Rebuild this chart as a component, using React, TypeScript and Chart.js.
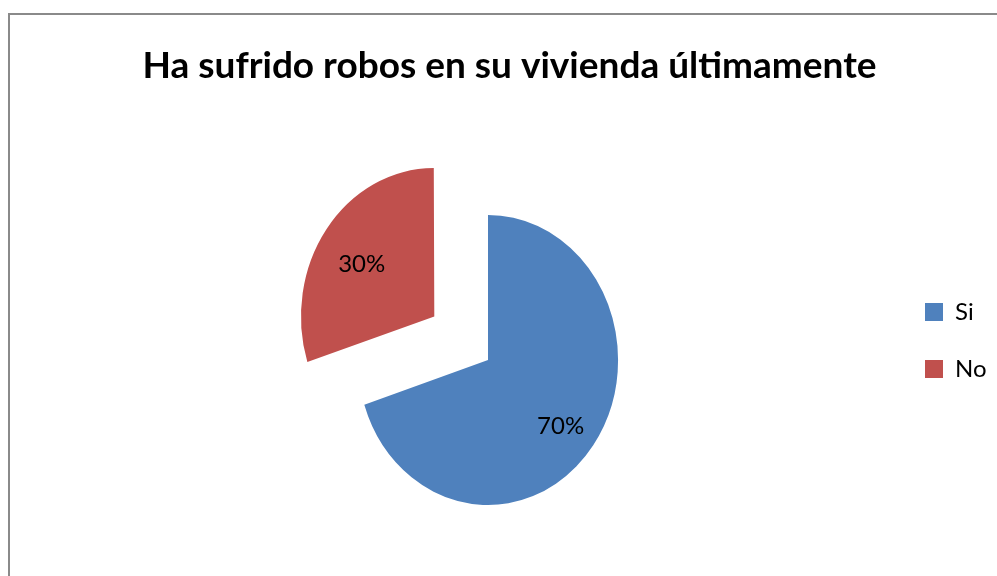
import { useEffect, useRef } from 'react';
import { Chart, registerables } from 'chart.js';

Chart.register(...registerables);

const TITLE = 'Ha sufrido robos en su vivienda últimamente';
const categories = ['Si', 'No'];
const percentages = [70, 30];
const sliceColors = ['#4F81BD', '#C0504D'];
const explodeOffsets = [0, 74];

const X_SCALE = 0.897;
const FONT = 'Lato';
const LEGEND_FONT = 24;
const LEGEND_BOX = 18;
const LEGEND_PAD = 33;
const LABEL_DY = 7;

export default function App() {
  const ref = useRef<HTMLCanvasElement | null>(null);

  useEffect(() => {
    const canvas = ref.current;
    if (!canvas) return;
    const total = percentages.reduce((a, b) => a + b, 0);

    // layout: legend box left edge, title centre and pie centre
    const mctx = document.createElement('canvas').getContext('2d') as CanvasRenderingContext2D;
    mctx.font = `${LEGEND_FONT}px ${FONT}`;
    const textW = Math.max(...categories.map((c) => mctx.measureText(c).width));
    const legendW = LEGEND_PAD + LEGEND_BOX + LEGEND_FONT / 2 + textW + 10;
    const legendLeft = 892;
    const padRight = 997 - legendLeft - legendW;
    const padLeft = 2 * 509.5 - 997 + padRight;
    const axisW = 2 * 488 - padLeft - legendLeft;

    const piePlugin = {
      id: 'pieShape',
      beforeDatasetsDraw(chart: any) {
        const arc = chart.getDatasetMeta(0).data[0];
        const ctx = chart.ctx;
        ctx.save();
        ctx.translate(arc.x, 0);
        ctx.scale(X_SCALE, 1);
        ctx.translate(-arc.x, 0);
      },
      afterDatasetsDraw(chart: any) {
        const ctx = chart.ctx;
        ctx.restore();
        const meta = chart.getDatasetMeta(0);
        ctx.save();
        ctx.font = `24px ${FONT}`;
        ctx.fillStyle = '#000';
        ctx.textAlign = 'center';
        ctx.textBaseline = 'middle';
        meta.data.forEach((el: any, i: number) => {
          const { x, y, startAngle, endAngle, outerRadius } = el.getProps(
            ['x', 'y', 'startAngle', 'endAngle', 'outerRadius'],
            true
          );
          const mid = (startAngle + endAngle) / 2;
          const d = explodeOffsets[i] + 0.69 * outerRadius;
          const lx = x + Math.cos(mid) * d * X_SCALE;
          const ly = y + Math.sin(mid) * d + LABEL_DY;
          ctx.fillText(Math.round((percentages[i] / total) * 100) + '%', lx, ly);
        });
        ctx.restore();
      },
    };

    const chart = new Chart(canvas, {
      type: 'pie',
      data: {
        labels: categories,
        datasets: [
          {
            data: percentages,
            backgroundColor: sliceColors,
            borderWidth: 0,
            offset: explodeOffsets.map((o) => o * 4),
            hoverOffset: 0,
            radius: 145,
          } as any,
        ],
      },
      options: {
        responsive: false,
        animation: false,
        devicePixelRatio: 1,
        layout: { padding: { left: padLeft, right: padRight, top: 0, bottom: 0 } },
        scales: {
          y: {
            type: 'linear',
            position: 'left',
            display: true,
            grid: { display: false },
            border: { display: false },
            ticks: { display: false },
            afterFit(scale: any) {
              scale.width = axisW;
            },
          },
        },
        plugins: {
          title: {
            display: true,
            text: TITLE,
            color: '#000',
            font: { family: FONT, size: 37, weight: 'bold', lineHeight: 1.2 },
            padding: { top: 43.8, bottom: 55.8 },
          },
          legend: {
            display: true,
            position: 'right',
            fullSize: true,
            title: {
              display: true,
              text: '',
              font: { size: 12, lineHeight: 1 },
              padding: { top: 0, bottom: 93 },
            },
            labels: {
              boxWidth: LEGEND_BOX,
              boxHeight: LEGEND_BOX,
              padding: LEGEND_PAD,
              color: '#000',
              font: { family: FONT, size: LEGEND_FONT },
            },
          },
          tooltip: { enabled: false },
        },
      } as any,
      plugins: [piePlugin],
    });

    return () => chart.destroy();
  }, []);

  return (
    <div
      style={{
        position: 'fixed',
        left: 0,
        top: 0,
        width: 997,
        height: 576,
        overflow: 'hidden',
        background: '#fff',
      }}
    >
      <div
        style={{
          position: 'absolute',
          left: 8,
          top: 13,
          width: 1200,
          height: 1000,
          border: '2px solid #8a8a8a',
        }}
      />
      <canvas
        ref={ref}
        width={997}
        height={576}
        style={{ position: 'absolute', left: 0, top: 0, width: 997, height: 576, display: 'block' }}
      />
    </div>
  );
}
